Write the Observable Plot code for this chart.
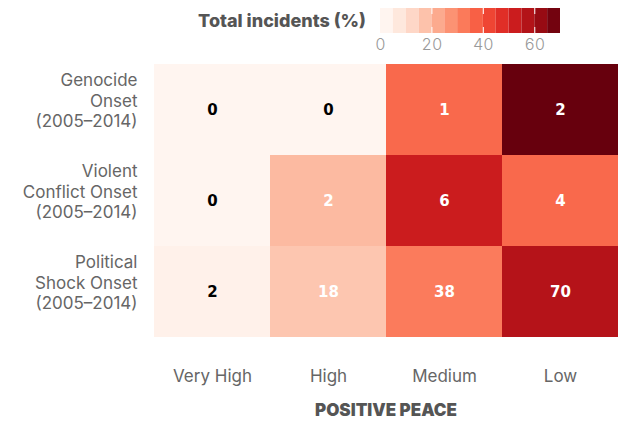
<!DOCTYPE html>
<html>
<head>
<meta charset="utf-8">
<script src="https://cdn.jsdelivr.net/npm/d3@7"></script>
<script src="https://cdn.jsdelivr.net/npm/@observablehq/plot@0.6"></script>
<style>
  html, body { margin: 0; padding: 0; background: #fff; }
  #wrap { position: relative; width: 619px; height: 421px; overflow: hidden; font-family: Inter, "Noto Sans", sans-serif; }
  #main, #legend { position: absolute; left: 0; top: 0; }
  #ltitle { position: absolute; right: 253px; top: 11px; font: 800 18px/20px Inter, "Noto Sans", sans-serif; color: #555; white-space: nowrap; }
</style>
</head>
<body>
<div id="wrap">
  <div id="main"></div>
  <div id="legend"></div>
  <div id="ltitle">Total incidents (%)</div>
</div>
<script>
// ---- data ----
const rowLabels = ["Genocide\nOnset\n(2005–2014)", "Violent\nConflict Onset\n(2005–2014)", "Political\nShock Onset\n(2005–2014)"];
const peaceLevels = ["Very High", "High", "Medium", "Low"];
const genocide = [0, 0, 1, 2];
const violent = [0, 2, 6, 4];
const political = [2, 18, 38, 70];
const legendSteps = [0, 5, 10, 15, 20, 25, 30, 35, 40, 45, 50, 55, 60, 65];
const legendTicks = [0, 20, 40, 60];

const series = [genocide, violent, political];
const data = [];
series.forEach((vals, i) => {
  const total = d3.sum(vals);
  vals.forEach((v, j) => {
    data.push({row: rowLabels[i], col: peaceLevels[j], count: v, pct: total ? 100 * v / total : 0});
  });
});
const colorDomain = [0, d3.max(data, d => d.pct)];

const main = Plot.plot({
  width: 619,
  height: 421,
  marginLeft: 152,
  marginRight: 0,
  marginTop: 63,
  marginBottom: 84,
  style: {fontFamily: "Inter, 'Noto Sans', sans-serif", background: "transparent"},
  x: {domain: peaceLevels, padding: 0},
  y: {domain: rowLabels, padding: 0},
  color: {type: "linear", scheme: "reds", domain: colorDomain},
  marks: [
    Plot.cell(data, {x: "col", y: "row", fill: "pct", inset: 0}),
    Plot.text(data, {x: "col", y: "row", text: d => String(d.count),
      fill: d => d.pct > 5 ? "white" : "black",
      fontWeight: "bold", fontSize: 15, fontFamily: "'DejaVu Sans', sans-serif"}),
    Plot.axisX({tickSize: 0, tickPadding: 32, fontSize: 17, fill: "#666", label: null}),
    Plot.axisY({tickSize: 0, tickPadding: 15, fontSize: 17, fill: "#666", lineHeight: 1.2, dy: -10, label: null}),
    Plot.text(["POSITIVE PEACE"], {frameAnchor: "bottom", dy: 73, lineAnchor: "middle",
      fontWeight: 900, fontSize: 17, fill: "#555"})
  ]
});
document.getElementById("main").appendChild(main);

const legend = Plot.plot({
  width: 619,
  height: 56,
  marginLeft: 380,
  marginRight: 59,
  marginTop: 8,
  marginBottom: 23,
  style: {fontFamily: "Inter, 'Noto Sans', sans-serif", background: "transparent"},
  x: {domain: [0, 70]},
  color: {type: "linear", scheme: "reds", domain: colorDomain},
  marks: [
    Plot.rectX(legendSteps, {x1: d => d, x2: d => d + 5, fill: d => d}),
    Plot.ruleX(legendTicks.slice(1), {stroke: "white", strokeWidth: 1, insetBottom: 19}),
    Plot.ruleX(legendTicks.slice(1), {stroke: "white", strokeWidth: 1, insetTop: 19}),
    Plot.axisX({ticks: legendTicks, tickSize: 0, tickPadding: 5, fontSize: 16, fill: "#999", fontWeight: 300, label: null})
  ]
});
document.getElementById("legend").appendChild(legend);
</script>
</body>
</html>
